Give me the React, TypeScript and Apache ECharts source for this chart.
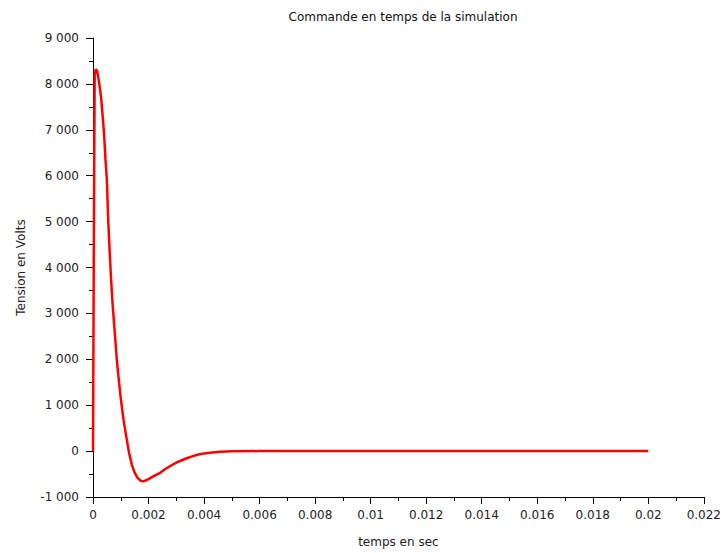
import React, { useEffect, useRef } from "react";
import * as echarts from "echarts";

// Sampled command voltage over time
const timeSec: number[] = [
  0, 0.00003, 0.00006, 0.0001, 0.00015, 0.0002, 0.00025, 0.0003, 0.00035, 0.0004,
  0.00045, 0.0005, 0.00055, 0.0006, 0.00065, 0.0007, 0.00075, 0.0008, 0.00085, 0.0009,
  0.00095, 0.001, 0.0011, 0.0012, 0.0013, 0.0014, 0.0015, 0.0016, 0.0017, 0.0018,
  0.0019, 0.002, 0.0022, 0.0024, 0.0026, 0.0028, 0.003, 0.0032, 0.0034, 0.0036,
  0.0038, 0.004, 0.0042, 0.0044, 0.0046, 0.0048, 0.005, 0.006, 0.008, 0.01,
  0.012, 0.014, 0.016, 0.018, 0.02,
];
const voltage: number[] = [
  0, 4500, 8200, 8320, 8280, 8100, 7900, 7650, 7280, 6900,
  6350, 5900, 5000, 4350, 3750, 3250, 2850, 2450, 2050, 1720,
  1430, 1150, 680, 310, -40, -300, -470, -580, -640, -660,
  -640, -610, -540, -480, -390, -320, -250, -200, -150, -110,
  -75, -50, -35, -25, -15, -8, -3, 0, 0, 0,
  0, 0, 0, 0, 0,
];

const chartTitle = "Commande en temps de la simulation";
const xName = "temps en sec";
const yName = "Tension en Volts";

const FONT = "DejaVu Sans";

const fmtX = (v: number) => String(parseFloat(v.toFixed(4)));
const fmtY = (v: number) => {
  const r = Math.round(v);
  const s = Math.abs(r).toString().replace(/\B(?=(\d{3})+(?!\d))/g, " ");
  return (r < 0 ? "-" : "") + s;
};

export default function App() {
  const ref = useRef<HTMLDivElement>(null);

  useEffect(() => {
    if (!ref.current) return;
    const chart = echarts.init(ref.current, undefined, { renderer: "svg" });
    const axisCommon = {
      axisLine: { show: true, lineStyle: { color: "#000", width: 1 } },
      axisTick: { show: true, inside: false, length: 7, lineStyle: { color: "#000" } },
      minorTick: { show: true, splitNumber: 2, length: 4, lineStyle: { color: "#000" } },
      splitLine: { show: false },
      axisLabel: { color: "#222", fontFamily: FONT, fontSize: 12 },
      nameTextStyle: { color: "#222", fontFamily: FONT, fontSize: 12 },
    };
    chart.setOption({
      animation: false,
      backgroundColor: "#fff",
      title: {
        text: chartTitle,
        left: 398,
        textAlign: "center",
        top: 6,
        textStyle: { fontFamily: FONT, fontSize: 12, fontWeight: "normal", color: "#111" },
      },
      grid: { left: 93, right: 20, top: 38, bottom: 54, containLabel: false },
      xAxis: {
        type: "value",
        min: 0,
        max: 0.022,
        interval: 0.002,
        name: xName,
        nameLocation: "middle",
        nameGap: 39,
        ...axisCommon,
        axisLine: { ...axisCommon.axisLine, onZero: false },
        axisLabel: { ...axisCommon.axisLabel, margin: 12, formatter: fmtX },
      },
      yAxis: {
        type: "value",
        min: -1000,
        max: 9000,
        interval: 1000,
        name: yName,
        nameLocation: "middle",
        nameGap: 66,
        ...axisCommon,
        axisLabel: { ...axisCommon.axisLabel, margin: 14, formatter: fmtY },
      },
      series: [
        {
          type: "line",
          data: timeSec.map((t, i) => [t, voltage[i]]),
          showSymbol: false,
          lineStyle: { color: "#ff0000", width: 2.5 },
          itemStyle: { color: "#ff0000" },
        },
      ],
    });
    return () => chart.dispose();
  }, []);

  return (
    <div
      ref={ref}
      style={{ position: "absolute", left: 0, top: 0, width: 724, height: 553 }}
    />
  );
}
